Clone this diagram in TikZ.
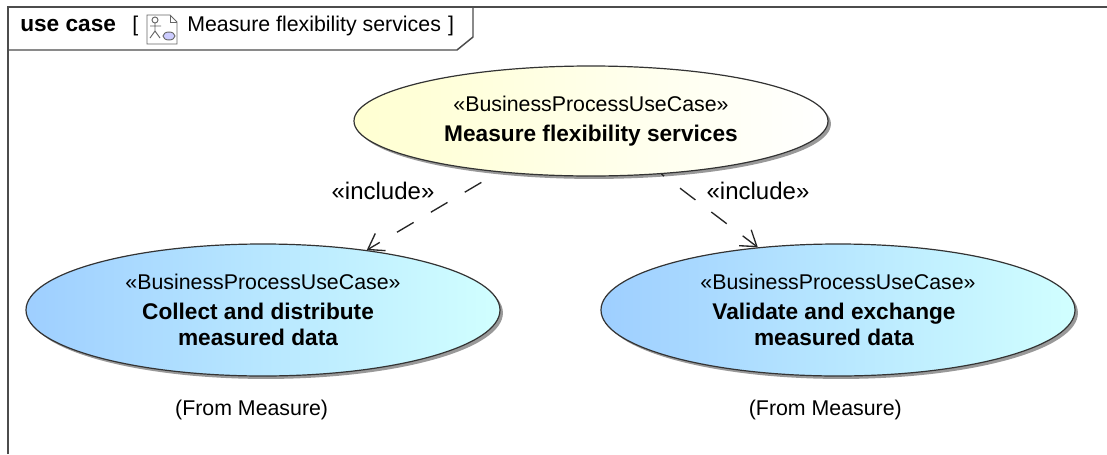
\documentclass[tikz,border=0pt]{standalone}
\usepackage{fontspec}
\setmainfont{Liberation Sans}
\usetikzlibrary{positioning, arrows.meta, shapes.geometric, shadows}
\newcommand{\casename}[1]{{\fontsize{17}{20}\selectfont\bfseries #1}}

\begin{document}
\begin{tikzpicture}[%
    x=0.75pt, y=-0.75pt,
    font=\fontsize{16}{19}\selectfont,
    >={Straight Barb[length=11pt, width=15pt, line width=1pt]},
    % Colors
    framecolor/.style={draw=black!70, line width=1.1pt},
    usecase/.style={draw=black!80, ellipse, line width=0.9pt, minimum width=355.5pt, inner sep=0pt, align=center,
        drop shadow={shadow xshift=2.2pt, shadow yshift=-2.2pt, opacity=0.4, fill=black}},
    parentcase/.style={usecase, minimum height=82.5pt, left color=yellow!18, right color=white},
    childcase/.style={usecase, minimum height=99pt, left color=blue!50!cyan!38, right color=cyan!18},
    include/.style={->, black!85, line width=1pt, dash pattern=on 14.5pt off 15pt, dash phase=14.5pt},
    namelabel/.style={font=\fontsize{17}{20}\selectfont\bfseries},
    includelabel/.style={font=\fontsize{18}{21}\selectfont},
    iconline/.style={draw=black!60, line width=0.7pt}
]
\useasboundingbox (0,0) rectangle (1107,454);
\fill[white] (0,0) rectangle (1107,454);

% --- 1. Frame and tab ---
\draw[framecolor] (8,454) -- (8,7) -- (1107,7);
\draw[framecolor] (8,50) -- (457,50) -- (473,37) -- (473,7);
\node[anchor=west, inner sep=0pt, namelabel] (frame_kind) at (20,26) {use case};
\node[anchor=west, inner sep=0pt] (frame_open) at (132,26) {[};
\node[anchor=west, inner sep=0pt] (frame_name) at (187,26) {Measure flexibility services};
\node[inner sep=0pt, right=5pt of frame_name] (frame_close) {]};

% Diagram icon
\draw[iconline, fill=white] (147,15) -- (170,15) -- (177,22) -- (177,44) -- (147,44) -- cycle;
\draw[iconline] (170,15) -- (170,22) -- (177,22);
\draw[iconline] (155,20) circle (3);
\draw[iconline] (155,23) -- (155,31) (150,26) -- (161,26) (155,31) -- (150,38) (155,31) -- (160,38);
\draw[iconline, fill=blue!20] (169,36) ellipse (6 and 4);

% --- 2. Use cases ---
\node[parentcase] (measure) at (591,121) {%
    «BusinessProcessUseCase»\\[4pt]\casename{Measure flexibility services}};
\node[childcase] (collect) at (263,310) {%
    «BusinessProcessUseCase»\\[3.5pt]\casename{Collect and distribute\kern7.5pt}\\[0.5pt]\casename{measured data\kern7.5pt}};
\node[childcase] (validate) at (838,310) {%
    «BusinessProcessUseCase»\\[3.5pt]\casename{Validate and exchange\kern6pt}\\[0.5pt]\casename{measured data\kern6pt}};

\node[below=14pt of collect, xshift=-8.5pt] (collect_from) {(From Measure)};
\node[below=14pt of validate, xshift=-9.5pt] (validate_from) {(From Measure)};

% --- 3. Include relations ---
\draw[include] (measure.209.8) -- (collect.30.2);
\draw[include, dash phase=12pt] (measure.-37.1) -- (validate.142.1);

\node[includelabel] (include_left) at (383,191) {«include»};
\node[includelabel] (include_right) at (758,191) {«include»};

\end{tikzpicture}
\end{document}
